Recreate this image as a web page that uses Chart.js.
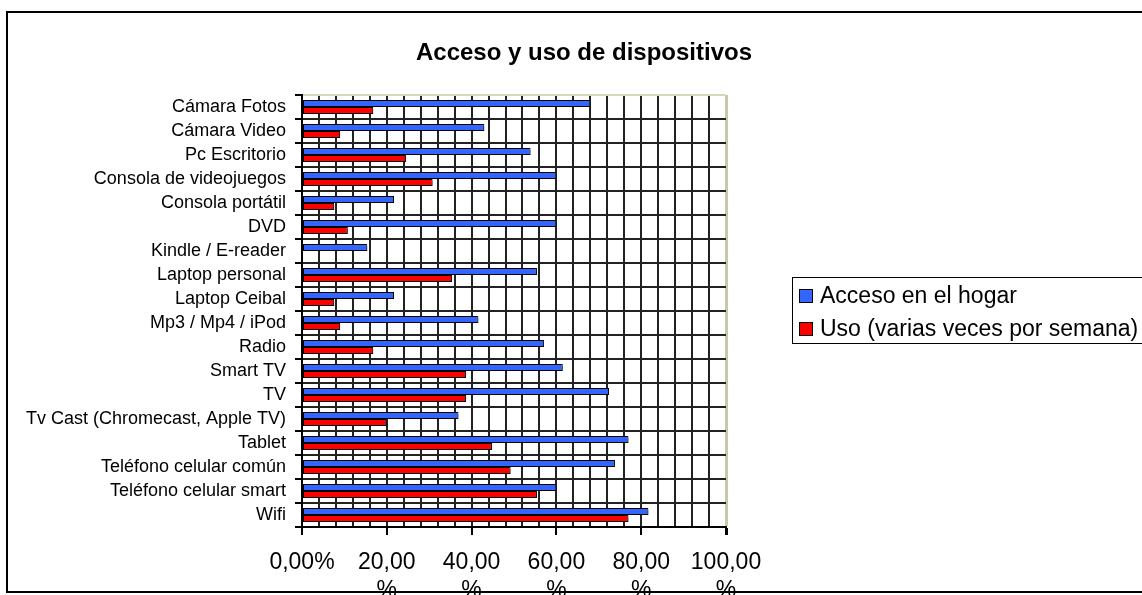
<!DOCTYPE html>
<html>
<head>
<meta charset="utf-8">
<script src="https://cdn.jsdelivr.net/npm/chart.js@4"></script>
<style>
  body { margin: 0; background: #fff; }
  #wrap { width: 1142px; height: 595px; position: relative; }
</style>
</head>
<body>
<div id="wrap"><canvas id="myChart"></canvas></div>
<script>
// categories, top to bottom
const categories = [
  'Cámara Fotos', 'Cámara Video', 'Pc Escritorio', 'Consola de videojuegos',
  'Consola portátil', 'DVD', 'Kindle / E-reader', 'Laptop personal',
  'Laptop Ceibal', 'Mp3 / Mp4 / iPod', 'Radio', 'Smart TV', 'TV',
  'Tv Cast (Chromecast, Apple TV)', 'Tablet', 'Teléfono celular común',
  'Teléfono celular smart', 'Wifi'
];
// percentages
const accesoHogar = [68.0, 43.0, 53.9, 60.0, 21.7, 60.0, 15.4, 55.4, 21.7, 41.6, 57.1, 61.5, 72.4, 36.9, 77.0, 73.8, 60.0, 81.7];
const usoSemanal = [16.8, 9.0, 24.5, 30.8, 7.6, 10.8, 0, 35.4, 7.6, 9.0, 16.8, 38.7, 38.7, 19.9, 44.8, 49.2, 55.4, 77.0];
const seriesNames = ['Acceso en el hogar', 'Uso (varias veces por semana)'];
const seriesColors = ['#3366FF', '#FF0000'];
const tickValues = [0, 20, 40, 60, 80, 100];

const FONT = "'Liberation Sans', Arial, sans-serif";
const chartTitle = 'Acceso y uso de dispositivos';

// grey drop shadow under the bars, like the old office chart
const shadowPlugin = {
  id: 'barShadow',
  beforeDatasetsDraw(chart) {
    const c = chart.ctx;
    c.save();
    c.shadowColor = 'rgba(0,0,0,0.35)';
    c.shadowOffsetX = 2;
    c.shadowOffsetY = 2;
    c.shadowBlur = 0;
  },
  afterDatasetsDraw(chart) {
    chart.ctx.restore();
  }
};

// frame, title and boxed legend (the original has them placed by hand)
const decorPlugin = {
  id: 'decor',
  afterDraw(chart) {
    const c = chart.ctx;
    c.save();
    c.strokeStyle = '#000';
    c.lineWidth = 2;
    c.strokeRect(7, 12, 1150, 580);

    c.fillStyle = '#000';
    c.font = 'bold 24px ' + FONT;
    c.textAlign = 'center';
    c.textBaseline = 'alphabetic';
    c.fillText(chartTitle, 584, 60);

    // legend box
    c.lineWidth = 1;
    c.strokeRect(792.5, 277.5, 400, 66);
    c.font = '23px ' + FONT;
    c.textAlign = 'left';
    c.textBaseline = 'middle';
    chart.data.datasets.forEach((ds, i) => {
      const y = 289 + i * 33;
      c.fillStyle = ds.backgroundColor;
      c.fillRect(799, y, 14, 14);
      c.strokeStyle = '#000';
      c.strokeRect(799.5, y + 0.5, 13, 13);
      c.fillStyle = '#000';
      c.fillText(ds.label, 820, y + 7.5);
    });
    c.restore();
  }
};

const ctx = document.getElementById('myChart').getContext('2d');
const myChart = new Chart(ctx, {
  type: 'bar',
  data: {
    labels: categories,
    datasets: [
      {
        label: seriesNames[0],
        data: accesoHogar,
        backgroundColor: seriesColors[0],
        borderColor: '#000',
        borderWidth: 1,
        borderSkipped: false
      },
      {
        label: seriesNames[1],
        data: usoSemanal,
        backgroundColor: seriesColors[1],
        borderColor: '#000',
        borderWidth: 1,
        borderSkipped: false
      }
    ]
  },
  options: {
    indexAxis: 'y',
    responsive: true,
    maintainAspectRatio: false,
    animation: false,
    categoryPercentage: 0.58,
    barPercentage: 1,
    layout: { padding: { left: 7, top: 95, right: 416, bottom: 0 } },
    plugins: {
      legend: { display: false },
      title: { display: false },
      tooltip: { enabled: false }
    },
    scales: {
      x: {
        min: 0,
        max: 100,
        afterFit: scale => { scale.height = 68; },
        border: { color: '#000', width: 2 },
        grid: {
          color: c => (c.tick && c.tick.value === 100) ? '#c8c8a8' : '#222',
          lineWidth: c => (c.tick && c.tick.value === 100) ? 3 : 2,
          tickColor: c => (c.tick && tickValues.includes(c.tick.value)) ? '#000' : 'rgba(0,0,0,0)',
          tickLength: 8
        },
        ticks: {
          stepSize: 4,
          autoSkip: false,
          maxRotation: 0,
          padding: 14,
          color: '#000',
          font: { family: FONT, size: 23 },
          callback: value => {
            if (!tickValues.includes(value)) return '';
            const txt = value.toFixed(2).replace('.', ',');
            return value === 0 ? txt + '%' : [txt, '%'];
          }
        }
      },
      y: {
        afterFit: scale => { scale.width = 295; },
        border: { color: '#000', width: 2 },
        grid: {
          color: c => c.index === 0 ? '#d8d8b8' : '#222',
          lineWidth: 2,
          tickColor: '#000',
          tickLength: 7
        },
        ticks: {
          autoSkip: false,
          padding: 9,
          color: '#000',
          font: { family: FONT, size: 18 }
        }
      }
    }
  },
  plugins: [shadowPlugin, decorPlugin]
});
</script>
</body>
</html>
